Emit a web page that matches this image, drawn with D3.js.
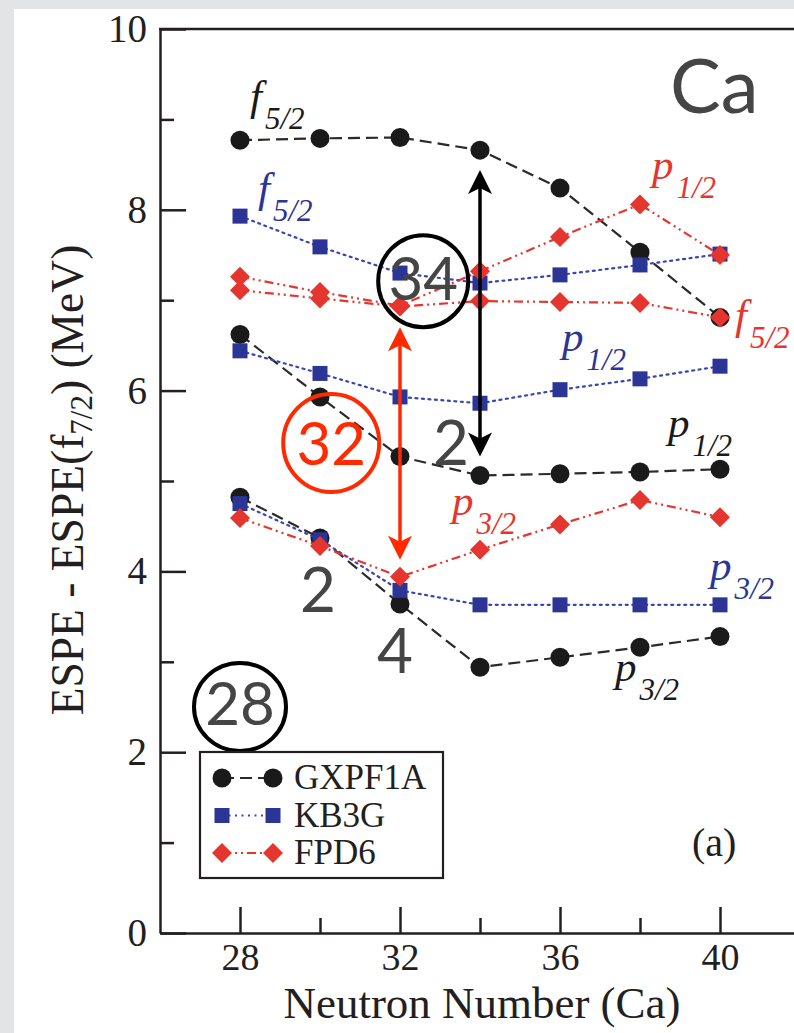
<!DOCTYPE html>
<html><head><meta charset="utf-8">
<script src="https://cdn.jsdelivr.net/npm/d3@7"></script>
<style>body{margin:0;background:#e2e4e6;}svg{display:block;}</style>
</head><body>
<svg id="c" width="794" height="1033"></svg>
<script>
// ---- data ----
const neutrons = [28, 30, 32, 34, 36, 38, 40];
const gxpf1a_f52 = [8.77, 8.79, 8.80, 8.66, 8.24, 7.53, 6.81];
const gxpf1a_p12 = [6.62, 5.93, 5.27, 5.06, 5.08, 5.10, 5.13];
const gxpf1a_p32 = [4.82, 4.37, 3.64, 2.94, 3.05, 3.16, 3.28];
const kb3g_f52 = [7.93, 7.59, 7.30, 7.19, 7.28, 7.39, 7.51];
const kb3g_p12 = [6.44, 6.19, 5.93, 5.86, 6.01, 6.13, 6.27];
const kb3g_p32 = [4.75, 4.35, 3.79, 3.63, 3.63, 3.63, 3.63];
const fpd6_p12 = [7.26, 7.09, 6.94, 7.32, 7.70, 8.06, 7.50];
const fpd6_f52 = [7.11, 7.02, 6.93, 6.99, 6.98, 6.97, 6.81];
const fpd6_p32 = [4.59, 4.28, 3.94, 4.24, 4.52, 4.79, 4.60];
const xMajorTicks = [28, 32, 36, 40];
const xMinorTicks = [30, 34, 38];
const yMajorTicks = [0, 2, 4, 6, 8, 10];
const yMinorTicks = [1, 3, 5, 7, 9];
const seriesNames = ["GXPF1A", "KB3G", "FPD6"];

const svg = d3.select("#c");
svg.append("rect").attr("x",0).attr("y",0).attr("width",794).attr("height",1033).attr("fill","#e2e4e6");
svg.append("rect").attr("x",14).attr("y",9).attr("width",780).attr("height",1024).attr("fill","#ffffff");

const x = d3.scaleLinear().domain([26, 42]).range([160, 800]);
const y = d3.scaleLinear().domain([0, 10]).range([933, 29]);
const AX = "#231f20";
const SERIF = "'Liberation Serif','Times New Roman',serif";
const SANS = "Lato,'Open Sans',sans-serif";

// axes
function styleAxis(g, fs){
  g.selectAll("path.domain").attr("stroke",AX).attr("stroke-width",2.5);
  g.selectAll(".tick line").attr("stroke",AX).attr("stroke-width",2.5);
  g.selectAll(".tick text").attr("fill","#231f20").attr("font-family",SERIF).attr("font-size",fs);
  g.attr("font-family",null).attr("font-size",null);
}
const gy = svg.append("g").attr("transform",`translate(${x(26)},0)`)
  .call(d3.axisLeft(y).tickValues(yMajorTicks).tickSize(-26).tickSizeOuter(0).tickPadding(13).tickFormat(d3.format("d")));
styleAxis(gy, 39);
const gym = svg.append("g").attr("transform",`translate(${x(26)},0)`)
  .call(d3.axisLeft(y).tickValues(yMinorTicks).tickSize(-14).tickSizeOuter(0).tickFormat(""));
styleAxis(gym, 39); gym.select("path.domain").remove();
const gx = svg.append("g").attr("transform",`translate(0,${y(0)})`)
  .call(d3.axisBottom(x).tickValues(xMajorTicks).tickSize(-26).tickSizeOuter(0).tickPadding(10).tickFormat(d3.format("d")));
styleAxis(gx, 38);
const gxm = svg.append("g").attr("transform",`translate(0,${y(0)})`)
  .call(d3.axisBottom(x).tickValues(xMinorTicks).tickSize(-15).tickSizeOuter(0).tickFormat(""));
styleAxis(gxm, 38); gxm.select("path.domain").remove();
svg.append("line").attr("x1",x(26)-1).attr("x2",x(42)).attr("y1",y(10)).attr("y2",y(10)).attr("stroke",AX).attr("stroke-width",2.5);

// axis titles
svg.append("text").attr("x",482).attr("y",1018).attr("text-anchor","middle")
  .attr("font-family",SERIF).attr("font-size",44).attr("textLength",397).attr("lengthAdjust","spacingAndGlyphs")
  .attr("fill","#231f20").text("Neutron Number (Ca)");
const yt = svg.append("text").attr("transform","translate(83,480) rotate(-90)").attr("text-anchor","middle")
  .attr("font-family",SERIF).attr("font-size",45.5).attr("fill","#231f20");
yt.append("tspan").text("ESPE - ESPE(f");
yt.append("tspan").attr("font-size",31).attr("dy",9).text("7/2");
yt.append("tspan").attr("dy",-9).text(") (MeV)");

// series styles
const styles = {
  GXPF1A:{color:"#1a1a1a", line:"#2a2a2a", dash:"12,6", shape:"circle"},
  KB3G:{color:"#2b3595", line:"#3a46b0", dash:"2,4.5", shape:"square"},
  FPD6:{color:"#e5352f", line:"#e5352f", dash:"9,4,2,4,2,4", shape:"diamond"}
};
function marker(g, shape, cx, cy, color){
  if(shape==="circle") g.append("circle").attr("cx",cx).attr("cy",cy).attr("r",9.5).attr("fill",color);
  else if(shape==="square") g.append("rect").attr("x",cx-7.5).attr("y",cy-7.5).attr("width",15).attr("height",15).attr("fill",color);
  else g.append("path").attr("d",`M${cx},${cy-10}L${cx+10},${cy}L${cx},${cy+10}L${cx-10},${cy}Z`).attr("fill",color);
}
const groups = [
  ["GXPF1A",[gxpf1a_f52,gxpf1a_p12,gxpf1a_p32]],
  ["KB3G",[kb3g_f52,kb3g_p12,kb3g_p32]],
  ["FPD6",[fpd6_p12,fpd6_f52,fpd6_p32]]
];
const line = d3.line().x((d,i)=>x(neutrons[i])).y(d=>y(d));
groups.forEach(([name, arrs])=>{
  const st = styles[name];
  const g = svg.append("g");
  arrs.forEach(a=>{
    g.append("path").attr("d",line(a)).attr("fill","none").attr("stroke",st.line)
      .attr("stroke-width",2.2).attr("stroke-dasharray",st.dash)
      .attr("stroke-linecap",st.shape==="square"?"round":"butt");
  });
  arrs.forEach(a=>a.forEach((v,i)=>marker(g, st.shape, x(neutrons[i]), y(v), st.color)));
});

// orbital labels
function lab(px, py, main, sub, color){
  const t = svg.append("text").attr("x",px).attr("y",py).attr("font-family",SERIF).attr("font-style","italic").attr("fill",color);
  t.append("tspan").attr("font-size",43).text(main);
  t.append("tspan").attr("font-size",31).attr("dx",3).attr("dy",19).text(sub);
}
lab(250,110,"f","5/2","#1a1a1a");
lab(258,202,"f","5/2","#2b3595");
lab(652,179,"p","1/2","#e5352f");
lab(735,329,"f","5/2","#e5352f");
lab(562,351,"p","1/2","#2b3595");
lab(668,437,"p","1/2","#1a1a1a");
lab(452,515,"p","3/2","#e5352f");
lab(710,580,"p","3/2","#2b3595");
lab(615,681,"p","3/2","#1a1a1a");

// arrows (annotations)
function arrow(xv, y1v, y2v, color, w){
  const X = x(xv), Y1 = y(y1v), Y2 = y(y2v);
  svg.append("line").attr("x1",X).attr("x2",X).attr("y1",Y1+15).attr("y2",Y2-15).attr("stroke",color).attr("stroke-width",w);
  const hl=24, hw=12, notch=6;
  svg.append("path").attr("d",`M${X},${Y1}L${X+hw},${Y1+hl}L${X},${Y1+hl-notch}L${X-hw},${Y1+hl}Z`).attr("fill",color);
  svg.append("path").attr("d",`M${X},${Y2}L${X+hw},${Y2-hl}L${X},${Y2-hl+notch}L${X-hw},${Y2-hl}Z`).attr("fill",color);
}
arrow(34, 8.44, 5.27, "#000000", 3.5);
arrow(32, 6.70, 4.13, "#ff2a00", 3.5);

// big numerals / circles
const GRAY = "#454545";
function big(px, py, txt, size, color){
  svg.append("text").attr("x",px).attr("y",py).attr("text-anchor","middle").attr("font-family",SANS)
    .attr("font-size",size).attr("fill",color).text(txt);
}
svg.append("ellipse").attr("cx",x(32.58)).attr("cy",y(7.21)).attr("rx",45).attr("ry",46).attr("fill","none").attr("stroke","#000").attr("stroke-width",4);
big(x(32.58), 300, "34", 60, GRAY);
svg.append("ellipse").attr("cx",x(30.28)).attr("cy",y(5.42)).attr("rx",48).attr("ry",49).attr("fill","none").attr("stroke","#ff2a00").attr("stroke-width",4);
big(x(30.28), 465, "32", 60, "#ff2a00");
svg.append("ellipse").attr("cx",x(28)).attr("cy",y(2.50)).attr("rx",46).attr("ry",44).attr("fill","none").attr("stroke","#000").attr("stroke-width",4);
big(x(28), 725, "28", 60, GRAY);
big(318, 612, "2", 62, GRAY);
big(395, 673, "4", 62, GRAY);
big(451, 465, "2", 62, GRAY);
svg.append("text").attr("x",670).attr("y",113).attr("font-family",SANS).attr("font-size",76).attr("fill",GRAY).text("Ca");

// legend
const lg = svg.append("g");
lg.append("rect").attr("x",200).attr("y",752).attr("width",243).attr("height",126).attr("fill","#fff").attr("stroke",AX).attr("stroke-width",2.2);
seriesNames.forEach((n,i)=>{
  const st = styles[n], ly = 778 + i*37.5;
  lg.append("line").attr("x1",222).attr("x2",273).attr("y1",ly).attr("y2",ly).attr("stroke",st.line).attr("stroke-width",2.2).attr("stroke-dasharray",st.dash);
  marker(lg, st.shape, 222, ly, st.color);
  marker(lg, st.shape, 273, ly, st.color);
  lg.append("text").attr("x",294).attr("y",ly+11).attr("font-family",SERIF).attr("font-size",35).attr("fill","#231f20").text(n);
});
svg.append("text").attr("x",692).attr("y",856).attr("font-family",SERIF).attr("font-size",40).attr("fill","#231f20").text("(a)");
</script>
</body></html>
